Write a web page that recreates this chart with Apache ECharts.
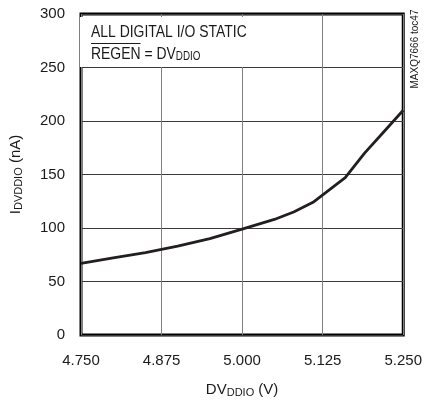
<!DOCTYPE html>
<html>
<head>
<meta charset="utf-8">
<script src="https://cdn.jsdelivr.net/npm/echarts@6/dist/echarts.min.js"></script>
<style>
  html, body { margin: 0; padding: 0; background: #fff; }
  #chart { width: 425px; height: 403px; }
</style>
</head>
<body>
<div id="chart"></div>
<script>
// supply voltage (V)
const voltages = [4.75, 4.8, 4.85, 4.9, 4.95, 5.0, 5.05, 5.08, 5.11, 5.16, 5.19, 5.22, 5.25];
// supply current (nA)
const currents = [67, 72, 77, 83, 90, 99, 108, 115, 124, 147, 170, 190, 210];

const FONT = '"Liberation Sans", Arial, sans-serif';
const NARROW = 0.82; // squeeze factor to mimic the condensed font of the original

const chart = echarts.init(document.getElementById('chart'));

// width of the overlined word, measured in the same font
const ctx = document.createElement('canvas').getContext('2d');
ctx.font = '17px ' + FONT;
const regenW = ctx.measureText('REGEN').width * NARROW;

const sub = { fontFamily: FONT, fontSize: 11, color: '#1a1a1a', verticalAlign: 'bottom', padding: [6, 0, 0, 0] };

const option = {
  animation: false,
  grid: {
    left: 78, right: 18, top: 14, bottom: 61,
    show: true, borderColor: '#000', borderWidth: 3
  },
  xAxis: {
    type: 'value',
    min: 4.75, max: 5.25, interval: 0.125,
    axisLine: { show: false },
    axisTick: { show: false },
    axisLabel: {
      color: '#1a1a1a', fontFamily: FONT, fontSize: 15, margin: 18,
      formatter: v => v.toFixed(3)
    },
    splitLine: { show: true, lineStyle: { color: '#808080', width: 1 } },
    name: '{a|DV}{s|DDIO}{a| (V)}',
    nameLocation: 'middle',
    nameGap: 46,
    nameTextStyle: {
      rich: {
        a: { fontFamily: FONT, fontSize: 15, color: '#1a1a1a' },
        s: sub
      }
    }
  },
  yAxis: {
    type: 'value',
    min: 0, max: 300, interval: 50,
    axisLine: { show: false },
    axisTick: { show: false },
    axisLabel: { color: '#1a1a1a', fontFamily: FONT, fontSize: 15, margin: 16 },
    splitLine: { show: true, lineStyle: { color: '#3a3a3a', width: 1 } },
    name: '{a|I}{s|DVDDIO}{a| (nA)}',
    nameLocation: 'middle',
    nameGap: 57,
    nameTextStyle: {
      rich: {
        a: { fontFamily: FONT, fontSize: 15, color: '#1a1a1a' },
        s: sub
      }
    }
  },
  series: [{
    type: 'line',
    data: voltages.map((v, i) => [v, currents[i]]),
    symbol: 'none',
    lineStyle: { color: '#231f20', width: 2.8 },
    z: 5
  }],
  graphic: [
    {
      type: 'rect', x: 80, y: 17, z: 10,
      shape: { width: 175, height: 50 },
      style: { fill: '#fff' }
    },
    {
      type: 'text', x: 91, y: 24, z: 11, scaleX: NARROW,
      style: { text: 'ALL DIGITAL I/O STATIC', font: '17px ' + FONT, fill: '#1a1a1a', verticalAlign: 'top' }
    },
    {
      type: 'text', x: 91, y: 45, z: 11, scaleX: NARROW,
      style: {
        text: '{a|REGEN = DV}{s|DDIO}',
        verticalAlign: 'top',
        rich: {
          a: { font: '17px ' + FONT, fill: '#1a1a1a' },
          s: { font: '12px ' + FONT, fill: '#1a1a1a', verticalAlign: 'bottom', padding: [6, 0, 0, 0] }
        }
      }
    },
    {
      type: 'line', z: 11,
      shape: { x1: 91, y1: 43.5, x2: 91 + regenW, y2: 43.5 },
      style: { stroke: '#1a1a1a', lineWidth: 1 }
    },
    {
      type: 'text', z: 11,
      x: 410, y: 49, rotation: Math.PI / 2,
      style: {
        text: 'MAXQ7666 toc47', font: '10px ' + FONT, fill: '#1a1a1a',
        align: 'center', verticalAlign: 'top'
      }
    }
  ]
};

chart.setOption(option);
</script>
</body>
</html>
